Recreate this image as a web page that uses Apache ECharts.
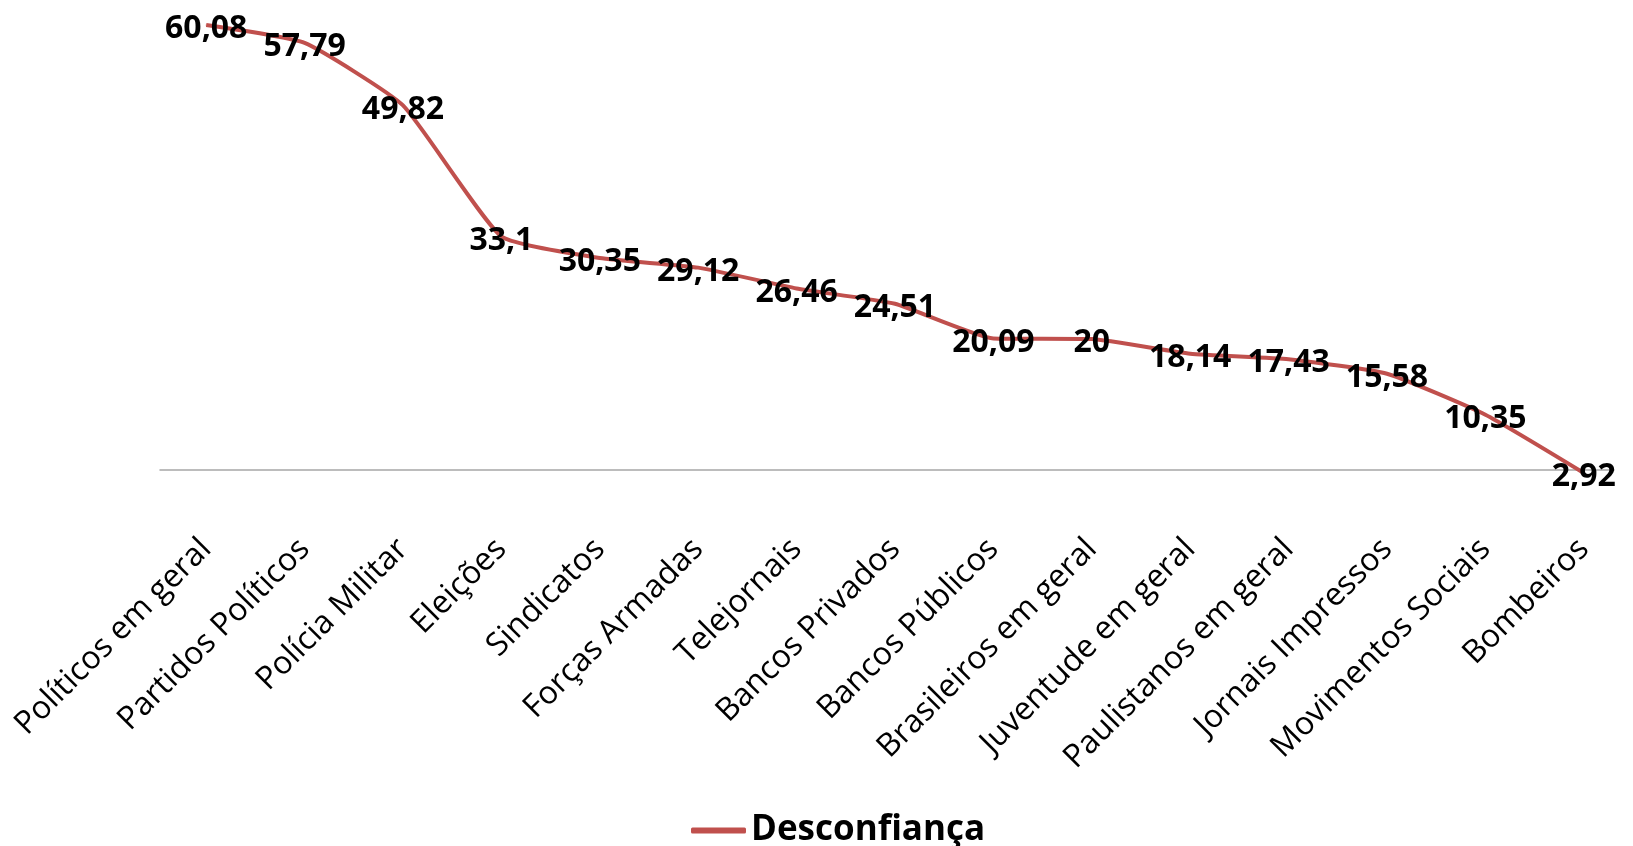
<!DOCTYPE html>
<html>
<head>
<meta charset="utf-8">
<script src="https://cdn.jsdelivr.net/npm/echarts@6/dist/echarts.min.js"></script>
<style>
html,body{margin:0;padding:0;background:#fff;}
#chart{width:1633px;height:846px;}
</style>
</head>
<body>
<div id="chart"></div>
<script>
const categories = ["Políticos em geral","Partidos Políticos","Polícia Militar","Eleições","Sindicatos","Forças Armadas","Telejornais","Bancos Privados","Bancos Públicos","Brasileiros em geral","Juventude em geral","Paulistanos em geral","Jornais Impressos","Movimentos Sociais","Bombeiros"];
const desconfianca = [60.08,57.79,49.82,33.1,30.35,29.12,26.46,24.51,20.09,20,18.14,17.43,15.58,10.35,2.92];
const seriesName = "Desconfiança";

const chart = echarts.init(document.getElementById('chart'));
chart.setOption({
  animation: false,
  backgroundColor: '#ffffff',
  grid: [
    {left: 157, width: 1512, top: 25, bottom: 376, containLabel: false},
    {left: 160, width: 1454, top: 25, bottom: 376, containLabel: false}
  ],
  legend: {
    data: [seriesName],
    left: 686, top: 808,
    icon: 'roundRect', itemWidth: 55, itemHeight: 6, itemGap: 6,
    textStyle: {fontFamily: 'Open Sans', fontWeight: 'bold', fontSize: 35, color: '#000'}
  },
  xAxis: [{
    gridIndex: 0,
    type: 'category',
    data: categories,
    boundaryGap: true,
    axisLine: {show: false},
    axisTick: {show: false},
    axisLabel: {rotate: 45, interval: 0, margin: 74, fontFamily: 'Open Sans', fontSize: 32, color: '#000'}
  }, {
    gridIndex: 1,
    type: 'category',
    data: [],
    axisLine: {show: true, onZero: false, lineStyle: {color: '#A6A6A6', width: 1.5}},
    axisTick: {show: false},
    axisLabel: {show: false}
  }],
  yAxis: [{
    gridIndex: 0,
    type: 'value', min: 3.3, max: 60.08,
    show: false, splitLine: {show: false}
  }, {
    gridIndex: 1,
    type: 'value', min: 0, max: 1,
    show: false, splitLine: {show: false}
  }],
  series: [{
    name: seriesName,
    type: 'line',
    xAxisIndex: 0, yAxisIndex: 0,
    data: desconfianca,
    clip: false,
    symbol: 'circle',
    symbolSize: 1,
    showSymbol: true,
    smooth: 0.15,
    z: 3,
    color: '#C0504D',
    itemStyle: {color: '#C0504D'},
    lineStyle: {color: '#C0504D', width: 4},
    label: {
      show: true, position: 'inside', offset: [0, 4],
      fontFamily: 'Open Sans', fontWeight: 'bold', fontSize: 32, color: '#000',
      formatter: p => String(p.value).replace('.', ',')
    }
  }]
});
</script>
</body>
</html>
